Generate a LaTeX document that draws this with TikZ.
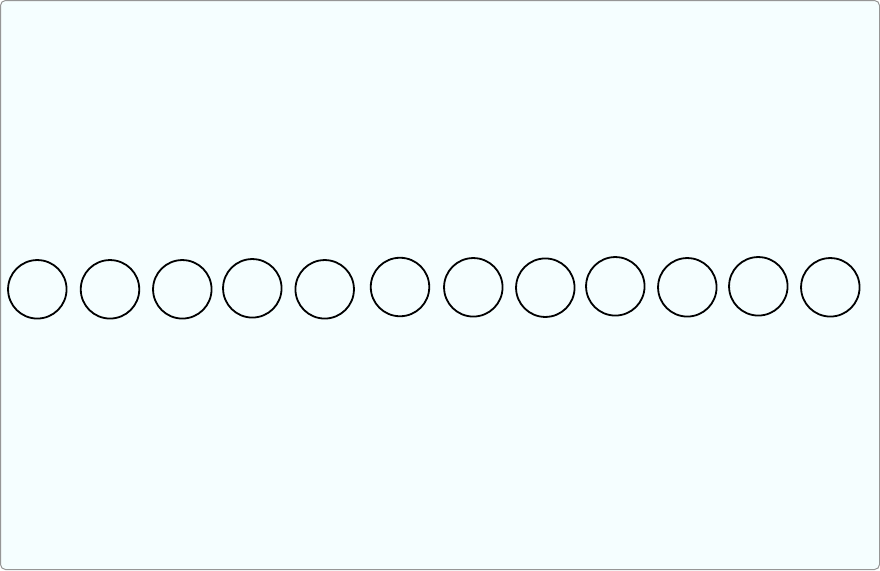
\documentclass[tikz,border=0pt]{standalone}
\definecolor{bgcol}{RGB}{245,254,255}
\definecolor{bordercol}{RGB}{150,150,150}
\begin{document}
\begin{tikzpicture}[x=1pt,y=-1pt,
  ring/.style={circle,draw=black,line width=1.8pt,minimum size=58.5pt,inner sep=0pt,fill=none}]
\useasboundingbox (0,0) rectangle (880,570);
\draw[fill=bgcol,draw=bordercol,line width=1pt,rounded corners=5pt] (0.5,0.5) rectangle (879.5,569.5);
\node[ring] (c1) at (37.3,289.3) {};
\node[ring] (c2) at (110,289.3) {};
\node[ring] (c3) at (182.3,289.3) {};
\node[ring] (c4) at (252.3,288.3) {};
\node[ring] (c5) at (324.7,289.3) {};
\node[ring] (c6) at (400,287) {};
\node[ring] (c7) at (473.3,287.3) {};
\node[ring] (c8) at (545.3,287.7) {};
\node[ring] (c9) at (615.3,286.3) {};
\node[ring] (c10) at (687.3,287.3) {};
\node[ring] (c11) at (758.3,286.3) {};
\node[ring] (c12) at (830.3,287.3) {};
\end{tikzpicture}
\end{document}
